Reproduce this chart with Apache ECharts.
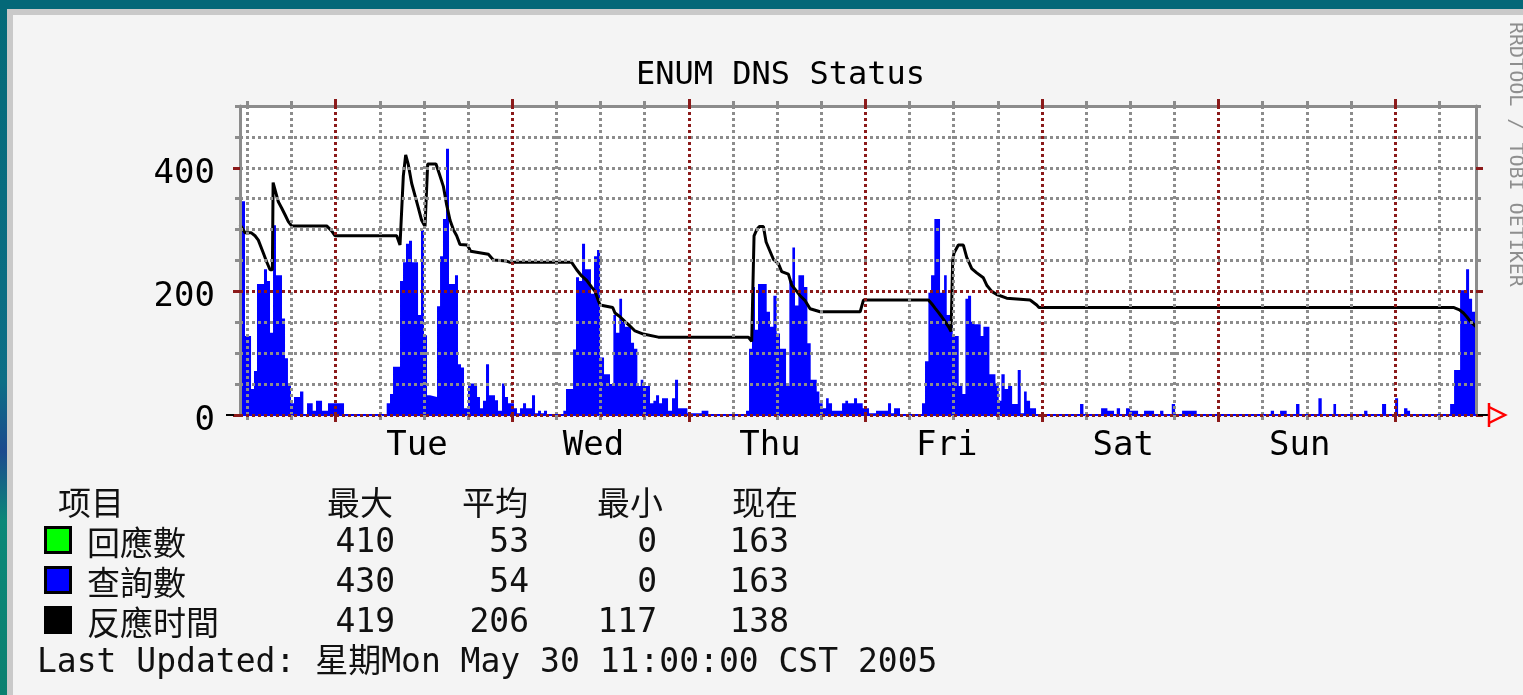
<!DOCTYPE html>
<html>
<head>
<meta charset="utf-8">
<title>ENUM DNS Status</title>
<script src="https://cdn.jsdelivr.net/npm/echarts@6.0.0/dist/echarts.min.js"></script>
<style>
  html, body { margin: 0; padding: 0; background: #f4f4f4; }
  #chart { width: 1523px; height: 695px; }
</style>
</head>
<body>
<div id="chart"></div>
<script>
// week graph: starts Mon 11:00, one slot per hour
const startClock = 11
const spanHours = 168
const dayNames = ['Tue', 'Wed', 'Thu', 'Fri', 'Sat', 'Sun']
const yTicks = [0, 50, 100, 150, 200, 250, 300, 350, 400, 450, 500]

// 查詢數 (blue area), step changes: hours from start / value
const queryHours = [
  0, 0.68, 1.5, 1.9, 2.31, 3.26, 3.67, 4.08, 4.49, 4.89, 5.71, 6.12, 6.52, 6.93, 7.34, 8.16, 8.61, 9.11, 9.88, 10.33, 11.15, 11.96, 14.14,
  19.94, 20.39, 20.8, 21.75, 22.16, 22.56, 22.97, 23.38, 24.2, 24.6, 25.01, 25.42, 25.83, 26.78, 27.19, 27.59, 28.0, 28.41, 29.22, 29.63, 30.04, 30.45, 30.99, 32.22, 32.62, 33.03, 33.44, 33.85, 34.66, 35.07, 35.61, 36.02, 36.43, 37.24, 37.65, 38.06, 38.47, 38.88, 39.69, 40.1, 40.51, 40.91, 41.32, 41.73,
  43.95, 44.31, 45.27, 45.67, 46.08, 46.49, 46.9, 47.71, 48.12, 48.53, 48.94, 49.48, 50.29, 50.75, 51.11, 51.56, 51.93, 52.33, 53.15, 53.56, 54.01, 54.46, 54.83, 55.73, 56.19, 56.55, 56.96, 57.36, 58.18, 58.72, 59.13, 59.54, 60.81, 62.75, 63.66,
  68.78, 69.19, 69.59, 70.0, 70.41, 71.59, 72.04, 72.5, 72.95, 73.4, 74.22, 74.67, 75.08, 75.44, 75.9, 76.67, 77.12, 77.57, 78.39, 78.75, 79.2, 79.66, 80.02, 80.47, 81.83, 82.28, 82.65, 83.46, 83.87, 84.64, 85.5, 86.45, 88.08, 88.49, 88.9, 89.71,
  92.7, 93.11, 93.57, 93.93, 94.38, 95.15, 95.7, 96.06, 96.51, 96.87, 97.69, 98.19, 98.6, 98.96, 99.37, 99.82, 100.68, 101.04, 101.86, 102.68, 103.13, 103.49, 103.94, 104.4, 104.95, 105.71, 106.12, 106.57, 106.93, 107.39, 108.2,
  114.18, 114.64, 117.04, 117.9, 118.8, 119.17, 119.62, 120.43, 120.98, 122.07, 122.88, 124.24, 125.06, 125.51, 126.65, 127.1, 128.05, 130.04, 140.1, 140.55, 141.37, 142.27, 143.54, 144.0, 146.58, 147.03, 148.62, 148.98, 152.79, 153.24, 155.23, 155.78, 157.0, 157.41, 158.22, 158.68, 159.04,
  164.48, 165.02, 165.84, 166.65, 167.06, 167.47, 168,
]
const queryCounts = [
  346, 128, 42, 71, 212, 236, 217, 133, 307, 226, 156, 92, 50, 19, 29, 38, 0, 19, 7, 23, 7, 19, 0,
  19, 34, 78, 217, 247, 277, 282, 247, 162, 299, 129, 32, 29, 176, 257, 317, 431, 212, 226, 82, 77, 11, 51, 29, 11, 23, 82, 32, 24, 7, 51, 29, 19, 11, 3, 11, 19, 11, 32, 3, 7, 3, 7, 0,
  7, 42, 106, 223, 217, 277, 236, 196, 257, 267, 93, 66, 50, 162, 133, 188, 151, 143, 117, 107, 47, 57, 47, 19, 23, 32, 19, 27, 7, 27, 57, 11, 3, 7, 0,
  7, 107, 207, 138, 212, 167, 143, 193, 132, 107, 47, 217, 271, 177, 226, 207, 116, 57, 38, 19, 11, 27, 19, 7, 19, 23, 19, 27, 19, 11, 3, 7, 19, 3, 11, 0,
  19, 87, 198, 226, 317, 198, 226, 162, 146, 128, 47, 34, 188, 193, 151, 147, 128, 143, 66, 51, 23, 66, 42, 47, 18, 73, 3, 38, 23, 11, 0,
  18, 0, 11, 7, 0, 11, 0, 11, 7, 0, 7, 0, 7, 0, 18, 0, 7, 0, 7, 0, 7, 0, 18, 0, 27, 0, 18, 0, 7, 0, 18, 0, 27, 0, 11, 7, 0,
  18, 73, 202, 236, 188, 167, 167,
]

// 反應时間 (black line)
const respHours = [
  0, 0.68, 1.5, 2.04, 2.49, 3.17, 3.62, 4.08, 4.4, 4.5, 5.21, 5.66, 6.12, 6.57, 7.02, 11.78, 12.46, 12.91,
  21.3, 21.75, 21.9, 22.2, 22.52, 22.88, 23.33, 23.79, 24.24, 24.69, 25.15, 25.4, 25.51, 26.64, 27.1, 27.64, 28.09, 28.55, 29.0, 29.45, 29.9, 30.9, 31.35, 33.76, 34.44, 36.25, 36.7,
  45.08, 45.76, 46.44, 47.12, 47.8, 48.26, 48.71, 48.94, 50.66, 50.97, 51.65, 52.33, 53.01, 53.69, 54.82, 56.86,
  69.1, 69.55, 69.78, 69.87, 70.24, 70.6, 71.14, 71.51, 72.04, 72.5, 73.18, 73.63, 74.54, 75.0, 75.68, 76.14, 76.82, 77.49, 78.85, 84.29, 84.74,
  93.57, 94.02, 94.47, 94.93, 95.38, 95.83, 96.29, 96.65, 96.87, 97.05, 97.64, 98.32, 98.78, 99.46, 100.14, 101.04, 101.5, 102.18, 102.86, 104.21, 107.39, 108.29, 108.6,
  164.93, 165.75, 166.29, 166.74, 167.2, 168,
]
const respTimes = [
  308, 295, 295, 290, 283, 262, 248, 235, 235, 376, 345, 335, 324, 313, 306, 306, 298, 290,
  290, 275, 275, 387, 421, 405, 375, 355, 335, 315, 305, 305, 406, 406, 390, 370, 340, 315, 300, 290, 276, 275, 265, 260, 251, 249, 247,
  247, 235, 225, 218, 207, 200, 185, 178, 174, 165, 159, 151, 144, 136, 131, 126,
  126, 119, 119, 290, 300, 305, 305, 280, 265, 252, 245, 232, 228, 210, 200, 193, 185, 172, 167, 167, 186,
  186, 180, 173, 166, 159, 151, 143, 135, 250, 262, 275, 275, 255, 237, 230, 222, 210, 200, 195, 189, 186, 178, 174,
  174, 170, 165, 159, 152, 143,
]

// legend table
const statHeaders = ['最大', '平均', '最小', '现在']
const statNames = ['回應數', '查詢數', '反應时間']
const statMax = [410, 430, 419]
const statAvg = [53, 54, 206]
const statMin = [0, 0, 117]
const statNow = [163, 163, 138]
const lastUpdated = 'Last Updated: 星期Mon May 30 11:00:00 CST 2005'

const GRAY = '#8c8c8c'
const RED = '#8b1a1a'
const BLUE = '#0000ff'
const MONO = "'DejaVu Sans Mono', 'Noto Sans CJK TC', monospace"
const CJK = "'Noto Sans CJK TC', 'Noto Sans CJK SC', sans-serif"
const boxColors = ['#00ff00', BLUE, '#000000']

const hourSlots = Array.from({ length: spanHours + 1 }, (_, i) => i)
const clockOf = (i) => (startClock + i) % 24
const isQuarterDay = (i) => clockOf(i) % 6 === 0
const isMidnight = (i) => clockOf(i) === 0
const isNoon = (i) => clockOf(i) === 12 && i > 12

const dotted = (color) => ({ color, width: 3, type: [3, 3] })

function timeAxis(position, major) {
  return {
    type: 'category',
    data: hourSlots,
    boundaryGap: false,
    position,
    z: major ? 4 : 3,
    axisLine: major
      ? { show: false }
      : {
          show: true,
          onZero: false,
          lineStyle: position === 'bottom' ? { color: BLUE, width: 2 } : { color: GRAY, width: 3 },
        },
    axisTick: {
      show: true,
      interval: major ? isMidnight : isQuarterDay,
      length: major ? 7 : 5,
      lineStyle: { color: major ? RED : GRAY, width: 3 },
    },
    splitLine: {
      show: position === 'bottom',
      interval: major ? isMidnight : isQuarterDay,
      lineStyle: dotted(major ? RED : GRAY),
    },
    axisLabel: {
      show: position === 'bottom' && major,
      interval: isNoon,
      formatter: (v, idx) => dayNames[Math.floor((idx - 25) / 24)] || '',
      margin: 14,
      padding: [0, 14, 0, 0],
      fontFamily: MONO,
      fontSize: 34,
      color: '#000',
    },
  }
}

function valueAxis(position, major) {
  const sel = major ? (i) => i % 4 === 0 : () => true
  return {
    type: 'category',
    data: yTicks,
    boundaryGap: false,
    position,
    z: major ? 4 : 3,
    axisLine: major ? { show: false } : { show: true, onZero: false, lineStyle: { color: GRAY, width: 3 } },
    axisTick: {
      show: true,
      interval: sel,
      length: major ? 7 : 5,
      lineStyle: { color: major ? RED : GRAY, width: 3 },
    },
    splitLine: {
      show: position === 'left',
      interval: sel,
      showMaxLine: false,
      lineStyle: dotted(major ? RED : GRAY),
    },
    axisLabel: {
      show: position === 'left' && major,
      interval: (i, v) => i % 4 === 0 && Number(v) < 500,
      margin: 25,
      verticalAlign: 'top',
      lineHeight: 12,
      fontFamily: MONO,
      fontSize: 34,
      color: '#000',
    },
  }
}

const legendGraphics = []
statHeaders.forEach((h, i) => {
  legendGraphics.push({
    type: 'text', x: 360 + i * 135, y: 502,
    style: { text: h, font: `33px ${CJK}`, fill: '#111', align: 'center', verticalAlign: 'middle' },
  })
})
legendGraphics.push({
  type: 'text', x: 58, y: 502,
  style: { text: '项目', font: `33px ${CJK}`, fill: '#111', align: 'left', verticalAlign: 'middle' },
})
statNames.forEach((name, r) => {
  const y = 542 + r * 40
  legendGraphics.push({
    type: 'rect', x: 0, y: 0,
    shape: r < 2 ? { x: 45.5, y: y - 14.5, width: 25, height: 25 } : { x: 44, y: y - 16, width: 28, height: 28 },
    style: r < 2 ? { fill: boxColors[r], stroke: '#000', lineWidth: 3 } : { fill: boxColors[r] },
  })
  legendGraphics.push({
    type: 'text', x: 87, y,
    style: { text: name, font: `33px ${CJK}`, fill: '#111', align: 'left', verticalAlign: 'middle' },
  })
  ;[statMax[r], statAvg[r], statMin[r], statNow[r]].forEach((val, c) => {
    legendGraphics.push({
      type: 'text', x: [395, 529, 657, 789][c], y: y + 1,
      style: { text: String(val), font: `33px ${MONO}`, fill: '#111', align: 'right', verticalAlign: 'middle' },
    })
  })
})
legendGraphics.push({
  type: 'text', x: 37, y: 663,
  style: { text: lastUpdated, font: `33px ${MONO}`, fill: '#111', align: 'left', verticalAlign: 'middle' },
})

const chart = echarts.init(document.getElementById('chart'))

chart.setOption({
  animation: false,
  backgroundColor: '#f4f4f4',
  grid: {
    left: 240,
    right: 47,
    top: 106,
    bottom: 280,
    show: true,
    backgroundColor: '#ffffff',
    borderWidth: 0,
    containLabel: false,
    outerBoundsMode: 'none',
  },
  xAxis: [
    timeAxis('bottom', false),
    timeAxis('bottom', true),
    timeAxis('top', false),
    timeAxis('top', true),
    { type: 'value', min: 0, max: spanHours, show: false },
  ],
  yAxis: [
    valueAxis('left', false),
    valueAxis('left', true),
    valueAxis('right', false),
    valueAxis('right', true),
    { type: 'value', min: 0, max: 500, show: false },
  ],
  series: [
    {
      name: '查詢數',
      type: 'line',
      xAxisIndex: 4,
      yAxisIndex: 4,
      step: 'end',
      symbol: 'none',
      silent: true,
      z: 2,
      lineStyle: { width: 0, color: BLUE },
      areaStyle: { color: BLUE, opacity: 1 },
      data: queryHours.map((h, i) => [h, queryCounts[i]]),
    },
    {
      name: '反應時間',
      type: 'line',
      xAxisIndex: 4,
      yAxisIndex: 4,
      symbol: 'none',
      silent: true,
      z: 2,
      lineStyle: { width: 3, color: '#000' },
      data: respHours.map((h, i) => [h, respTimes[i]]),
    },
  ],
  graphic: {
    elements: [
      // window frame
      {
        type: 'rect', z: -1, shape: { x: 0, y: 0, width: 7, height: 695 },
        style: {
          fill: new echarts.graphic.LinearGradient(0, 0, 0, 1, [
            { offset: 0, color: '#046a78' },
            { offset: 0.55, color: '#0c6e86' },
            { offset: 0.65, color: '#1c4a8e' },
            { offset: 0.75, color: '#0a8878' },
            { offset: 1, color: '#0a8070' },
          ]),
        },
      },
      { type: 'rect', z: -1, shape: { x: 0, y: 0, width: 1523, height: 9 }, style: { fill: '#046878' } },
      { type: 'rect', z: -1, shape: { x: 7, y: 9, width: 1516, height: 6 }, style: { fill: '#c9c9c9' } },
      { type: 'rect', z: -1, shape: { x: 7, y: 9, width: 6, height: 686 }, style: { fill: '#c9c9c9' } },
      {
        type: 'text', x: 636, y: 75.5,
        style: { text: 'ENUM DNS Status', font: `32px ${MONO}`, fill: '#000', align: 'left', verticalAlign: 'middle' },
      },
      {
        type: 'text', x: 1515, y: 22, rotation: -Math.PI / 2,
        style: { text: 'RRDTOOL / TOBI OETIKER', font: `20px ${MONO}`, fill: '#8e8e8e', align: 'left', verticalAlign: 'middle' },
      },
      // axis ends and arrow
      { type: 'line', z: 10, shape: { x1: 226, y1: 415, x2: 234, y2: 415 }, style: { stroke: '#000', lineWidth: 2 } },
      { type: 'line', z: 10, shape: { x1: 1478, y1: 415, x2: 1489, y2: 415 }, style: { stroke: '#000', lineWidth: 2 } },
      { type: 'line', z: 10, shape: { x1: 1489, y1: 403, x2: 1489, y2: 427 }, style: { stroke: '#ff0000', lineWidth: 2.5 } },
      {
        type: 'polyline', z: 10, shape: { points: [[1489, 407], [1505, 415], [1489, 423]] },
        style: { stroke: '#ff0000', lineWidth: 2.5, fill: null },
      },
      ...legendGraphics,
    ],
  },
})

new ResizeObserver(() => chart.resize()).observe(document.getElementById('chart'))
</script>
</body>
</html>
